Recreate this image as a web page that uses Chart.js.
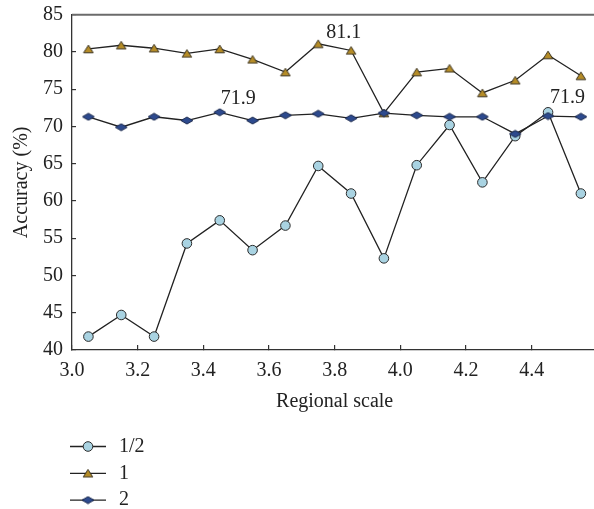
<!DOCTYPE html>
<html>
<head>
<meta charset="utf-8">
<script src="https://cdn.jsdelivr.net/npm/chart.js@4/dist/chart.umd.min.js"></script>
<style>
  html, body { margin: 0; padding: 0; background: #fff; overflow: hidden; }
  #wrap { width: 598px; height: 509px; }
</style>
</head>
<body>
<div id="wrap"><canvas id="chart" width="598" height="509"></canvas></div>
<script>
// -- data --
const scales  = [3.05, 3.15, 3.25, 3.35, 3.45, 3.55, 3.65, 3.75, 3.85, 3.95, 4.05, 4.15, 4.25, 4.35, 4.45, 4.55];
const accHalf = [41.8, 44.7, 41.8, 54.3, 57.4, 53.4, 56.7, 64.7, 61.0, 52.3, 64.8, 70.2, 62.5, 68.7, 71.9, 61.0];
const accOne  = [80.4, 80.9, 80.5, 79.8, 80.4, 79.0, 77.3, 81.1, 80.2, 71.8, 77.3, 77.8, 74.5, 76.2, 79.6, 76.8];
const accTwo  = [71.3, 69.9, 71.3, 70.8, 71.9, 70.8, 71.5, 71.7, 71.1, 71.8, 71.5, 71.3, 71.3, 69.0, 71.4, 71.3];
const seriesNames = ['1/2', '1', '2'];

// value callouts: [series index, point index]
const callouts = [[1, 7], [2, 4], [0, 14]];

const FONT = "'Liberation Serif', 'DejaVu Serif', serif";
const INK = '#222';
const FS = 20;

// small canvases used as point styles (flat diamond, triangle)
function marker(kind, fill, stroke) {
  const c = document.createElement('canvas');
  const g = c.getContext('2d');
  if (kind === 'triangle') {
    c.width = 12; c.height = 10;
    g.beginPath();
    g.moveTo(6, 1.2); g.lineTo(10.8, 8.8); g.lineTo(1.2, 8.8);
  } else {
    c.width = 14; c.height = 9;
    g.beginPath();
    g.moveTo(7, 1); g.lineTo(13, 4.5); g.lineTo(7, 8); g.lineTo(1, 4.5);
  }
  g.closePath();
  g.fillStyle = fill; g.fill();
  g.lineWidth = 1; g.strokeStyle = stroke; g.stroke();
  return c;
}

const triMark = marker('triangle', '#b58c27', '#3b3320');
const diaMark = marker('diamond', '#2d4a8e', '#1c2a4e');

const toPts = vals => vals.map((v, i) => ({ x: scales[i], y: v }));

const datasets = [
  {
    label: seriesNames[0], data: toPts(accHalf), order: 3,
    borderColor: INK, borderWidth: 1.3,
    pointStyle: 'circle', pointRadius: 4.8,
    pointBackgroundColor: '#a9d3e2', pointBorderColor: '#2b2b2b', pointBorderWidth: 1,
  },
  {
    label: seriesNames[1], data: toPts(accOne), order: 2,
    borderColor: INK, borderWidth: 1.3,
    pointStyle: triMark, pointRadius: 5,
  },
  {
    label: seriesNames[2], data: toPts(accTwo), order: 1,
    borderColor: INK, borderWidth: 1.3,
    pointStyle: diaMark, pointRadius: 5,
  },
];

// top frame line, value callouts and the stacked legend under the axis
const extras = {
  id: 'extras',
  afterDatasetsDraw(chart) {
    const { ctx, chartArea, scales: { x, y } } = chart;
    ctx.save();
    ctx.strokeStyle = '#6b6b6b';
    ctx.lineWidth = 2;
    ctx.beginPath();
    ctx.moveTo(chartArea.left, chartArea.top);
    ctx.lineTo(chartArea.right, chartArea.top);
    ctx.stroke();

    ctx.font = `${FS}px ${FONT}`;
    ctx.fillStyle = INK;
    ctx.textBaseline = 'middle';
    ctx.textAlign = 'left';
    const offs = [[8, -11], [1, -14], [2, -15]];
    callouts.forEach(([s, i], k) => {
      const v = datasets[s].data[i];
      const px = x.getPixelForValue(v.x), py = y.getPixelForValue(v.y);
      ctx.fillText(v.y.toFixed(1), px + offs[k][0], py + offs[k][1]);
    });

    // legend
    datasets.forEach((ds, i) => {
      const ly = 446.5 + i * 26.8;
      ctx.strokeStyle = INK;
      ctx.lineWidth = 1.3;
      ctx.beginPath();
      ctx.moveTo(70, ly); ctx.lineTo(106, ly);
      ctx.stroke();
      if (ds.pointStyle === 'circle') {
        ctx.beginPath();
        ctx.arc(88, ly, 4.8, 0, Math.PI * 2);
        ctx.fillStyle = ds.pointBackgroundColor; ctx.fill();
        ctx.lineWidth = 1; ctx.strokeStyle = ds.pointBorderColor; ctx.stroke();
      } else {
        const m = ds.pointStyle;
        ctx.drawImage(m, 88 - m.width / 2, ly - m.height / 2);
      }
      ctx.fillStyle = INK;
      ctx.fillText(ds.label, 119, ly);
    });
    ctx.restore();
  },
};

new Chart(document.getElementById('chart'), {
  type: 'line',
  data: { datasets },
  options: {
    responsive: false,
    animation: false,
    devicePixelRatio: 1,
    layout: { autoPadding: false, padding: { top: 14.7, right: 0.7, left: 0, bottom: 0 } },
    plugins: { legend: { display: false }, tooltip: { enabled: false } },
    elements: { line: { tension: 0 } },
    scales: {
      x: {
        type: 'linear', min: 3.0, max: 4.6,
        afterFit: s => { s.height = 159; s.paddingRight = 0; s.paddingLeft = 0; },
        border: { color: '#333', width: 1.3 },
        grid: { drawOnChartArea: false, drawTicks: true, tickLength: -5, color: '#333', lineWidth: 1.2 },
        ticks: {
          stepSize: 0.2, padding: 14, color: INK, maxRotation: 0,
          font: { family: FONT, size: FS },
          callback: v => (v > 4.59 ? '' : v.toFixed(1)),
        },
        title: {
          display: true, text: 'Regional scale', color: INK,
          font: { family: FONT, size: FS },
          padding: { top: 0, bottom: 95 },
        },
      },
      y: {
        min: 40, max: 85,
        afterFit: s => { s.width = 72; s.paddingTop = 0; s.paddingBottom = 0; },
        border: { color: '#333', width: 1.3 },
        grid: { drawOnChartArea: false, drawTicks: true, tickLength: -4, color: '#333', lineWidth: 1.2 },
        ticks: {
          stepSize: 5, padding: 13, color: INK,
          font: { family: FONT, size: FS },
        },
        title: {
          display: true, text: 'Accuracy (%)', color: INK,
          font: { family: FONT, size: FS },
          padding: { top: 10, bottom: 0 },
        },
      },
    },
  },
  plugins: [extras],
});
</script>
</body>
</html>
